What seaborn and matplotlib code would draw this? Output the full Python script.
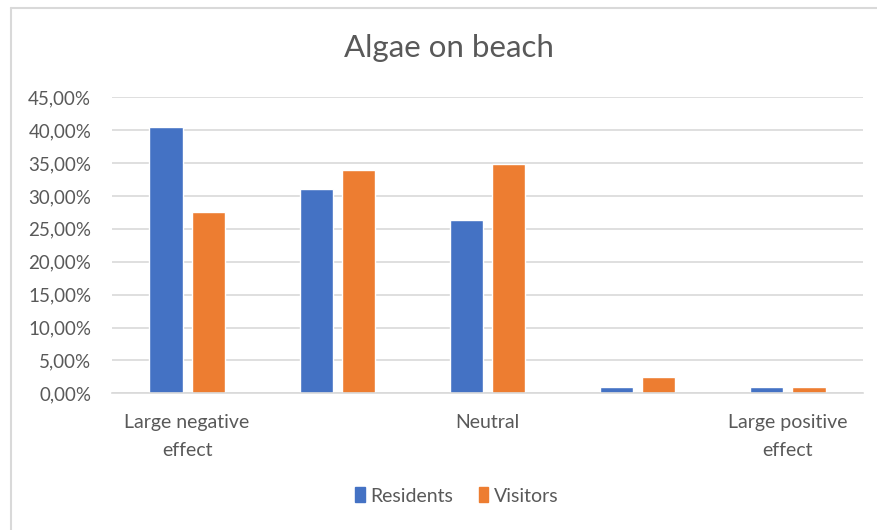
import matplotlib
matplotlib.use("Agg")
import matplotlib.pyplot as plt
import matplotlib.patches as mpatches
from matplotlib.lines import Line2D
from matplotlib.ticker import FuncFormatter
import pandas as pd
import seaborn as sns

# Survey answers: share of respondents per effect category
categories = ["Large negative effect", "Negative effect", "Neutral",
              "Positive effect", "Large positive effect"]
tick_labels = ["Large negative\neffect", "", "Neutral", "", "Large positive\neffect"]
residents = [0.405, 0.311, 0.263, 0.009, 0.009]
visitors = [0.275, 0.339, 0.348, 0.025, 0.009]
groups = ["Residents", "Visitors"]
colors = ["#4472C4", "#ED7D31"]

df = pd.DataFrame({
    "category": categories * 2,
    "group": [groups[0]] * len(categories) + [groups[1]] * len(categories),
    "share": residents + visitors,
})

sns.set_theme(style="white")
plt.rcParams["font.family"] = ["Lato", "DejaVu Sans"]
text_color = "#595959"

fig = plt.figure(figsize=(8.77, 5.30), dpi=100)
W, H = 877, 530

# light frame lines along the top and left of the chart area
frame_kw = dict(transform=fig.transFigure, color="#D9D9D9", linewidth=1.5)
fig.lines.append(Line2D([11 / W, 1], [1 - 8 / H, 1 - 8 / H], **frame_kw))
fig.lines.append(Line2D([11 / W, 11 / W], [0, 1 - 8 / H], **frame_kw))

ax = fig.add_axes([112 / W, 1 - 393.3 / H, (863 - 112) / W, (393.3 - 97.3) / H])
sns.barplot(data=df, x="category", y="share", hue="group", order=categories,
            hue_order=groups, palette=colors, width=0.56, gap=0.21,
            saturation=1, ax=ax, legend=False)

ax.set_ylim(0, 0.45)
ax.set_yticks([i * 0.05 for i in range(10)])
ax.yaxis.set_major_formatter(FuncFormatter(lambda v, p: f"{v * 100:.2f}%".replace(".", ",")))
ax.set_xticks(range(len(categories)))
ax.set_xticklabels(tick_labels, linespacing=1.75)
ax.set_xlim(-0.5, len(categories) - 0.5)
ax.set_xlabel("")
ax.set_ylabel("")
ax.grid(axis="y", color="#D9D9D9", linewidth=1.2)
ax.set_axisbelow(True)
for s in ["top", "right", "left"]:
    ax.spines[s].set_visible(False)
ax.spines["bottom"].set_color("#D9D9D9")
ax.spines["bottom"].set_linewidth(1.2)
ax.yaxis.set_tick_params(length=0, pad=15, labelsize=13.5, labelcolor=text_color)
ax.xaxis.set_tick_params(length=0, pad=15, labelsize=14, labelcolor=text_color)

fig.text(449 / W, 1 - 48 / H, "Algae on beach", ha="center", va="center",
         fontsize=22.5, color=text_color)

handles = [mpatches.Patch(color=c, label=g) for c, g in zip(colors, groups)]
fig.legend(handles=handles, loc="center", bbox_to_anchor=(457 / W, 1 - 496 / H), ncol=2,
           frameon=False, fontsize=14, labelcolor=text_color, handlelength=0.5,
           handleheight=0.8, handletextpad=0.3, columnspacing=1.3)

fig.savefig("out.png", dpi=100, facecolor="white")
